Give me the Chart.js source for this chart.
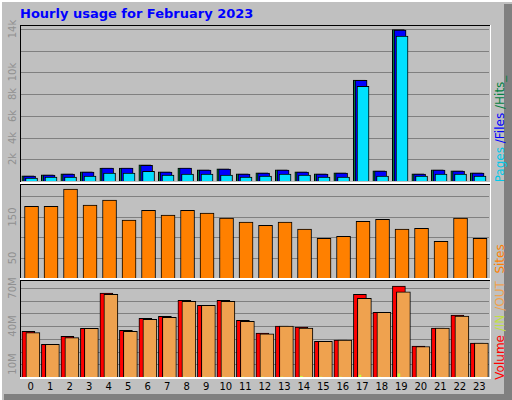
<!DOCTYPE html>
<html><head><meta charset="utf-8">
<script src="https://cdn.jsdelivr.net/npm/chart.js@4"></script>
<style>
body{margin:0;width:512px;height:400px;overflow:hidden;background:#fff;}
#frame{position:absolute;left:0;top:0;width:512px;height:400px;background:#C0C0C0;}
canvas{position:absolute;}
.t{position:absolute;font-family:"DejaVu Sans",sans-serif;white-space:nowrap;}
</style></head><body>
<div id="frame"></div>
<div style="position:absolute;left:0;top:0;width:512px;height:2px;background:#fff"></div>
<div style="position:absolute;left:0;top:0;width:2px;height:400px;background:#fff"></div>
<div style="position:absolute;left:504px;top:4px;width:8px;height:396px;background:#808080"></div>
<div style="position:absolute;left:4px;top:394px;width:508px;height:6px;background:#808080"></div>
<div class="t" style="left:20px;top:6px;font-size:13px;font-weight:bold;color:#0000FF;">Hourly usage for February 2023</div>
<script>
const hours = ["0","1","2","3","4","5","6","7","8","9","10","11","12","13","14","15","16","17","18","19","20","21","22","23"];
const hitsVals  = [470,560,660,840,1200,1200,1480,840,1200,1020,1110,660,750,1020,840,660,750,9300,930,13950,660,1020,930,750];
const filesVals = [450,545,640,820,1180,1180,1450,820,1180,1000,1090,640,730,1000,820,640,730,9270,910,13900,640,1000,910,730];
const pagesVals = [270,360,360,450,730,730,900,545,640,640,545,360,450,640,545,360,360,8730,450,13360,450,640,640,450];
const sitesVals = [176,176,218,179,191,142,166,154,166,159,147,137,129,137,120,97,102,139,144,120,122,90,147,97];
const volInVals = [36,25.7,32,38.3,66,36.7,46.2,47.8,60.4,56.5,60.4,44.6,34.6,40,39.4,28,29,65,51,71.6,24.4,38.6,48.8,26.8];
const volOutVals= [35,25.7,31,38.3,65,36,45.4,47,59.6,56.5,59.6,43.8,34,40,38.5,28,29,62,51,67,24,38.6,48,26.8];
const inVals    = [0,0,0,0,0,0,0,0,0,0,0,0,0,0,0.5,0,0,1.5,0,2.5,0,0,0,0];
const topTicks = [2000,4000,6000,8000,10000,12000,14000];
const topLabels = {2000:"2k",4000:"4k",6000:"6k",8000:"8k",10000:"10k",14000:"14k"};
const midTicks = [50,100,150,200];
const midLabels = {50:"50",150:"150"};
const botTicks = [10,20,30,40,50,60,70];
const botLabels = {10:"10M",40:"40M",70:"70M"};

function pts(vals, off){ return vals.map((v,i)=>({x:i+off,y:v})); }
function mk(id, left, top, w, h, ymax, datasets, ticks, labels, showX){
  const c=document.createElement('canvas'); c.id=id;
  c.style.left=left+'px'; c.style.top=top+'px'; c.style.width=w+'px'; c.style.height=h+'px';
  c.width=w; c.height=h; document.body.appendChild(c);
  const grid={id:'g'+id,beforeDatasetsDraw(ch){const y=ch.scales.y,ctx=ch.ctx;ctx.save();ctx.strokeStyle='#808080';ctx.lineWidth=1;
    ticks.forEach(t=>{const p=Math.round(y.getPixelForValue(t))+0.5;ctx.beginPath();ctx.moveTo(0,p);ctx.lineTo(ch.width,p);ctx.stroke();});ctx.restore();}};
  const ch=new Chart(c,{type:'bar',data:{datasets},options:{responsive:false,animation:false,devicePixelRatio:1,
    layout:{padding:0},plugins:{legend:{display:false},tooltip:{enabled:false}},
    scales:{x:{type:'linear',min:-0.5,max:23.5,offset:false,display:false},y:{min:0,max:ymax,display:false}}},plugins:[grid]});
  Object.keys(labels).forEach(k=>{const p=top+ch.scales.y.getPixelForValue(+k);
    const d=document.createElement('div');d.className='t';d.textContent=labels[k];
    d.style.cssText+='font-size:10px;color:#909090;left:12px;top:'+p+'px;transform:translate(-50%,-50%) rotate(-90deg);';
    document.body.appendChild(d);});
  if(showX){hours.forEach((hname,i)=>{const p=left+ch.scales.x.getPixelForValue(i);
    const d=document.createElement('div');d.className='t';d.textContent=hname;
    d.style.cssText+='font-size:10px;color:#000;top:381px;left:'+p+'px;transform:translateX(-50%);';document.body.appendChild(d);});}
}
const ds=(vals,off,color,w,order)=>({data:pts(vals,off),backgroundColor:color,borderColor:'#000',borderWidth:1,barThickness:w,order,grouped:false});
mk('c1',21,26,468,155,14280,[ds(hitsVals,-0.15,'#008040',12,2),ds(filesVals,-0.06,'#0000FF',12,1),ds(pagesVals,0.04,'#00E0FF',12,0)],topTicks,topLabels,false);
mk('c2',21,185,468,93,228,[ds(sitesVals,0.04,'#FF8000',14,0)],midTicks,midLabels,false);
mk('c3',21,282,468,95,74.8,[ds(volInVals,-0.12,'#FF0000',13,2),ds(volOutVals,0.11,'#EFA24F',14,1),{data:pts(inVals,-0.12),backgroundColor:'#C0FF40',borderWidth:0,barThickness:2,order:0,grouped:false}],botTicks,botLabels,true);
</script>
<div style="position:absolute;left:20px;top:25px;width:470px;height:1px;background:#000"></div>
<div style="position:absolute;left:20px;top:25px;width:1px;height:157px;background:#000"></div>
<div style="position:absolute;left:20px;top:182px;width:471px;height:2px;background:#fff"></div>
<div style="position:absolute;left:490px;top:25px;width:1px;height:353px;background:#fff"></div>
<div style="position:absolute;left:20px;top:184px;width:470px;height:1px;background:#000"></div>
<div style="position:absolute;left:20px;top:184px;width:1px;height:94px;background:#000"></div>
<div style="position:absolute;left:20px;top:278px;width:471px;height:2px;background:#fff"></div>
<div style="position:absolute;left:20px;top:280px;width:470px;height:1px;background:#000"></div>
<div style="position:absolute;left:20px;top:280px;width:1px;height:97px;background:#000"></div>
<div style="position:absolute;left:20px;top:377px;width:471px;height:2px;background:#fff"></div>
<div class="t" style="font-size:12px;left:500px;top:129px;transform:translate(-50%,-50%) rotate(-90deg);"><span style="color:#00C8E8">Pages</span><span style="color:#0000FF"> /Files</span><span style="color:#008040"> /Hits_</span></div>
<div class="t" style="font-size:12px;left:500px;top:312px;transform:translate(-50%,-50%) rotate(-90deg);"><span style="color:#FF0000">Volume</span><span style="color:#C0E040"> /IN</span><span style="color:#EFA24F"> /OUT</span><span style="color:#FF8000">&nbsp;&nbsp;Sites</span></div>
</body></html>
